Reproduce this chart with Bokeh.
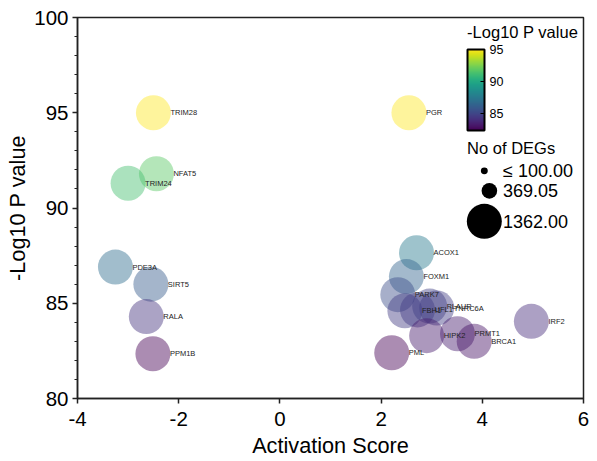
import numpy as np
from bokeh.plotting import figure
from bokeh.models import (ColumnDataSource, LinearColorMapper, ColorBar, FixedTicker,
                          Label, PrintfTickFormatter)
from bokeh.palettes import Viridis256
from bokeh.core.properties import value
from bokeh.embed import file_html
from bokeh.resources import INLINE

# ---- data ----
genes = ["TRIM28", "PGR", "NFAT5", "TRIM24", "PDE3A", "SIRT5", "RALA", "PPM1B",
         "ACOX1", "FOXM1", "PARK7", "FBH1", "UFL1", "PLAUR", "TNRC6A",
         "HIPK2", "PRMT1", "BRCA1", "PML", "IRF2"]
activation = [-2.50, 2.55, -2.44, -3.00, -3.25, -2.55, -2.64, -2.51,
              2.70, 2.50, 2.33, 2.47, 2.72, 2.96, 3.10,
              2.90, 3.51, 3.84, 2.21, 4.97]
neglogp = [95.0, 95.0, 91.8, 91.3, 86.9, 86.0, 84.3, 82.35,
           87.65, 86.4, 85.45, 84.6, 84.65, 84.85, 84.75,
           83.3, 83.4, 83.0, 82.4, 84.05]
n_degs = [1362] * 20

size_legend_values = [100.00, 369.05, 1362.00]
size_legend_labels = ["\u2264  100.00", "369.05", "1362.00"]
cbar_ticks = [85, 90, 95]
x_ticks = [-4, -2, 0, 2, 4, 6]
y_ticks = [80, 85, 90, 95, 100]
x_title = "Activation Score"
y_title = "-Log10 P value"

FONT = "Liberation Sans"
MAXD = 35.0
def diam(v):
    return MAXD * (np.asarray(v, dtype=float) / 1362.0) ** 0.62

src = ColumnDataSource(dict(x=activation, y=neglogp, g=genes, s=diam(n_degs)))

p = figure(width=597, height=461, x_range=(-4, 6), y_range=(80, 100),
           output_backend="svg", toolbar_location=None,
           min_border_left=77, min_border_right=14, min_border_top=17, min_border_bottom=63)
p.xgrid.visible = False
p.ygrid.visible = False
p.outline_line_color = "#222222"
p.outline_line_width = 1.5
p.background_fill_color = "white"

mapper = LinearColorMapper(palette=Viridis256, low=82.4, high=95)
p.scatter("x", "y", size="s", source=src, fill_color={"field": "y", "transform": mapper},
          fill_alpha=0.45, line_color=None)
p.text("x", "y", text="g", source=src, x_offset=17, text_baseline="middle",
       text_font=value(FONT), text_font_size="7.5px", text_color="#222222")

for ax in (p.xaxis[0], p.yaxis[0]):
    ax.axis_line_color = "#222222"
    ax.axis_line_width = 1.5
    ax.major_tick_line_color = "#222222"
    ax.major_tick_line_width = 1.5
    ax.minor_tick_line_color = "#222222"
    ax.minor_tick_line_width = 1.2
    ax.major_tick_in = 0
    ax.major_tick_out = 5
    ax.major_label_text_font = FONT
    ax.major_label_text_font_size = "20.5px"
    ax.major_label_text_color = "black"
    ax.axis_label_text_font = FONT
    ax.axis_label_text_font_size = "21.7px"
    ax.axis_label_text_font_style = "normal"
    ax.axis_label_text_color = "black"
    ax.formatter = PrintfTickFormatter(format="%d")

p.xaxis.ticker = FixedTicker(ticks=x_ticks)
p.xaxis.minor_tick_line_color = None
p.xaxis.major_label_standoff = 8
p.xaxis.axis_label_standoff = 4
p.xaxis.axis_label = x_title

p.yaxis.ticker = FixedTicker(ticks=y_ticks, minor_ticks=list(range(80, 101)))
p.yaxis.minor_tick_in = 0
p.yaxis.minor_tick_out = 3
p.yaxis.major_label_standoff = 4
p.yaxis.axis_label_standoff = 1
p.yaxis.axis_label = y_title

# ---- colour bar legend ----
cb = ColorBar(color_mapper=mapper, ticker=FixedTicker(ticks=cbar_ticks),
              formatter=PrintfTickFormatter(format="%d"),
              location=(386, 264), width=17, height=81, padding=4,
              bar_line_color="black", bar_line_width=2,
              major_tick_line_color="black", major_tick_in=4, major_tick_out=0,
              label_standoff=5, major_label_text_font=FONT,
              major_label_text_font_size="12.5px", major_label_text_color="black",
              background_fill_color=None, border_line_color=None)
p.add_layout(cb)

p.add_layout(Label(x=3.70, y=99.25, text="-Log10 P value", text_baseline="middle",
                   text_font=FONT, text_font_size="16.5px", text_color="black"))
p.add_layout(Label(x=3.70, y=93.16, text="No of DEGs", text_baseline="middle",
                   text_font=FONT, text_font_size="16.5px", text_color="black"))

# ---- size legend ----
leg_x = [4.04, 4.14, 4.04]
leg_y = [91.95, 90.9, 89.3]
lsrc = ColumnDataSource(dict(x=leg_x, y=leg_y, s=diam(size_legend_values),
                             t=size_legend_labels, tx=[4.41] * 3))
p.scatter("x", "y", size="s", source=lsrc, fill_color="black", line_color=None)
p.text("tx", "y", text="t", source=lsrc, text_baseline="middle",
       text_font=value(FONT), text_font_size="18px", text_color="black")

open("out.html", "w").write(file_html(p, INLINE))
